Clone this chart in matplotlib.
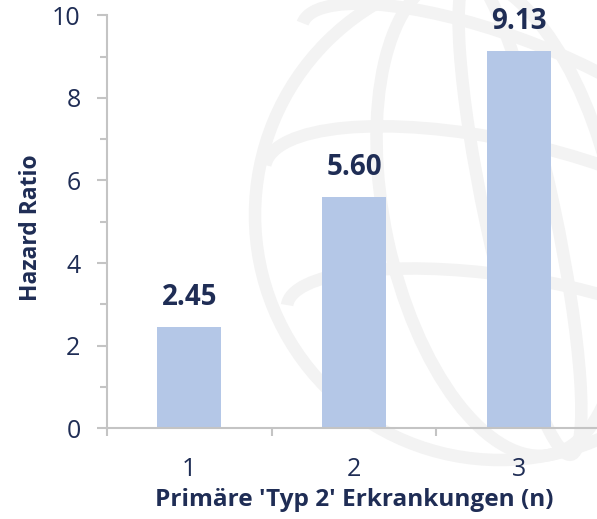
import matplotlib
matplotlib.use('Agg')
import matplotlib.pyplot as plt
from matplotlib.patches import Circle, Ellipse, Arc

# --- Daten ---
categories = ['1', '2', '3']
hazard_ratio = [2.45, 5.60, 9.13]
value_labels = ['2.45', '5.60', '9.13']

text_color = '#1f2d55'
bar_color = '#b4c7e7'
axis_color = '#c4c4c4'
globe_color = '#f3f3f3'

plt.rcParams['font.family'] = ['Open Sans', 'DejaVu Sans']

W, H = 597, 519
fig = plt.figure(figsize=(W / 100, H / 100), dpi=100)

# --- Hintergrund: Globus-Wasserzeichen ---
bg = fig.add_axes([0, 0, 1, 1], zorder=0)
bg.set_xlim(0, W)
bg.set_ylim(H, 0)
bg.axis('off')
cx, cy, r = 500, 215, 245
bg.add_patch(Circle((cx, cy), r, fill=False, lw=9, ec=globe_color))
bg.add_patch(Ellipse((cx, cy), 2 * 115, 2 * r, angle=-12, fill=False, lw=9, ec=globe_color))
bg.add_patch(Ellipse((cx + 20, cy), 2 * 35, 2 * r, angle=-12, fill=False, lw=9, ec=globe_color))
for dy, w, h, ang in [(-120, 420, 120, 20), (0, 480, 150, 12), (120, 430, 120, 8)]:
    bg.add_patch(Arc((cx, cy + dy), w, h, angle=ang, theta1=180, theta2=360,
                     lw=9, color=globe_color))

# --- Balkendiagramm ---
ax = fig.add_axes([107 / W, (H - 428.3) / H, (601 - 107) / W, (428.3 - 15.3) / H], zorder=1)
ax.patch.set_alpha(0)
x = [1, 2, 3]
bars = ax.bar(x, hazard_ratio, width=0.39, color=bar_color, zorder=2)

for xi, v, lab in zip(x, hazard_ratio, value_labels):
    ax.annotate(lab, (xi, v), xytext=(0, 11), textcoords='offset points',
                ha='center', va='bottom', fontsize=20, fontweight='bold', color=text_color)

ax.set_xlim(0.5, 3.5)
ax.set_ylim(0, 10)
ax.set_yticks([0, 2, 4, 6, 8, 10])
ax.set_yticks([1, 3, 5, 7, 9], minor=True)
ax.set_xticks(x)
ax.set_xticklabels(categories)
ax.set_xticks([0.5, 1.5, 2.5, 3.5], minor=True)

for s in ['top', 'right']:
    ax.spines[s].set_visible(False)
for s in ['left', 'bottom']:
    ax.spines[s].set_color(axis_color)
    ax.spines[s].set_linewidth(1.5)

ax.tick_params(axis='y', which='major', length=7, width=1.5, color=axis_color,
               labelsize=18, labelcolor=text_color, pad=12)
ax.tick_params(axis='y', which='minor', length=5, width=1.5, color=axis_color)
ax.tick_params(axis='x', which='major', length=0, labelsize=18, labelcolor=text_color, pad=21)
ax.tick_params(axis='x', which='minor', length=6, width=1.5, color=axis_color)

ax.set_ylabel('Hazard Ratio', fontsize=16.5, fontweight='bold', color=text_color)
ax.yaxis.set_label_coords(-0.13, 0.485)
ax.set_xlabel("Primäre 'Typ 2' Erkrankungen (n)", fontsize=17.6, fontweight='bold',
              color=text_color, labelpad=4)

fig.savefig('out.png', dpi=100)
